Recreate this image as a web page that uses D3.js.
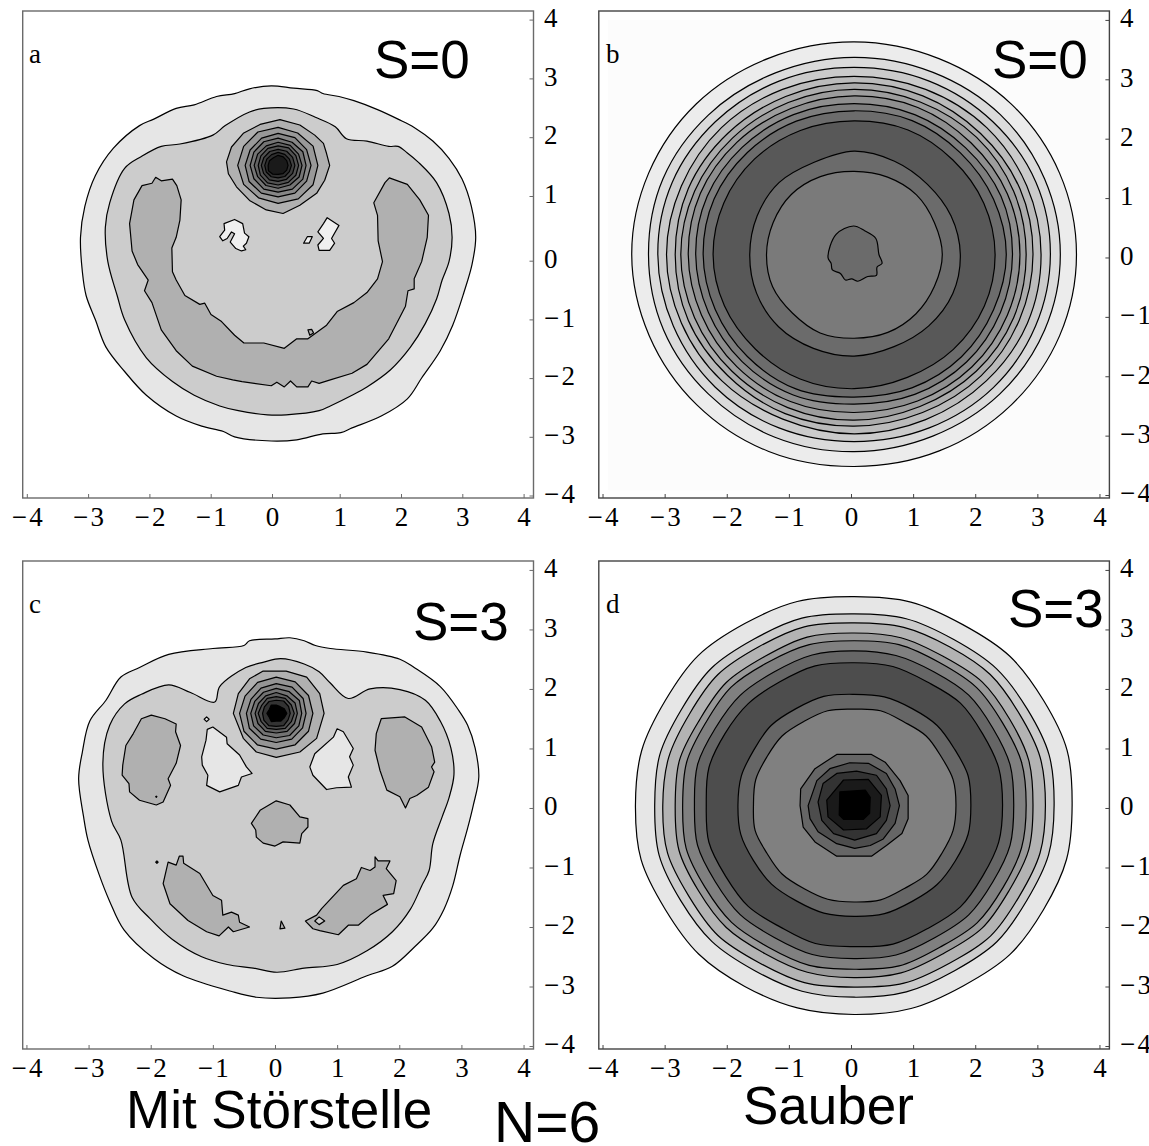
<!DOCTYPE html>
<html>
<head>
<meta charset="utf-8">
<script src="https://cdn.jsdelivr.net/npm/d3@7"></script>
<style>
  html, body { margin: 0; background: #fff; }
  svg { display: block; }
</style>
</head>
<body>
<script>
// tick labels, same on all panels
const tickVals = [-4, -3, -2, -1, 0, 1, 2, 3, 4];

// ---- panel a: contours as [x, y] in axis units
const aOuter = [[-.06,2.89],[.30,2.85],[.68,2.81],[.77,2.76],[1.03,2.71],[1.27,2.64],[1.65,2.49],[1.98,2.33],[2.24,2.19],[2.54,1.96],[2.80,1.67],[3.01,1.32],[3.16,.86],[3.23,.34],[3.17,-.12],[3.04,-.59],[2.86,-1.14],[2.66,-1.57],[2.36,-2.03],[2.13,-2.38],[1.71,-2.67],[1.24,-2.87],[1.06,-2.95],[.77,-2.97],[.35,-3.07],[-.06,-3.09],[-.65,-3.02],[-.83,-2.93],[-1.18,-2.84],[-1.59,-2.67],[-2.07,-2.32],[-2.42,-1.92],[-2.72,-1.51],[-2.89,-1.05],[-3.04,-.64],[-3.10,-.24],[-3.13,.34],[-3.06,.86],[-2.89,1.38],[-2.60,1.84],[-2.18,2.22],[-1.95,2.33],[-1.59,2.51],[-1.30,2.57],[-.94,2.71],[-.65,2.76],[-.41,2.84]];
const aSecond = [[-.18,2.51],[.30,2.50],[.65,2.36],[.97,2.20],[1.15,2.00],[1.48,1.96],[1.83,1.87],[1.98,1.87],[2.13,1.76],[2.30,1.61],[2.60,1.26],[2.80,.74],[2.85,.34],[2.80,-.07],[2.69,-.38],[2.60,-.70],[2.42,-1.11],[2.18,-1.51],[1.86,-1.89],[1.48,-2.18],[1.24,-2.32],[.89,-2.50],[.71,-2.58],[.18,-2.65],[-.12,-2.65],[-.59,-2.58],[-.89,-2.50],[-1.30,-2.32],[-1.65,-2.09],[-2.07,-1.69],[-2.42,-1.05],[-2.54,-.64],[-2.69,-.07],[-2.73,.51],[-2.66,.92],[-2.42,1.50],[-2.15,1.70],[-1.83,1.87],[-1.53,1.91],[-1.00,2.06],[-.80,2.22],[-.41,2.45]];
const aCrescent = [[-2.14,1.21],[-1.98,1.25],[-1.92,1.35],[-1.83,1.29],[-1.65,1.32],[-1.58,1.21],[-1.51,.97],[-1.53,.63],[-1.59,.34],[-1.66,.16],[-1.65,-.24],[-1.59,-.38],[-1.45,-.64],[-1.21,-.79],[-1.13,-.77],[-1.03,-.96],[-.86,-1.08],[-.65,-1.31],[-.50,-1.44],[-.18,-1.44],[.15,-1.53],[.35,-1.37],[.53,-1.37],[.83,-1.14],[1.00,-.91],[1.27,-.76],[1.48,-.59],[1.65,-.36],[1.73,-.07],[1.66,.28],[1.65,.71],[1.59,.92],[1.77,1.26],[1.84,1.34],[2.13,1.23],[2.33,.97],[2.47,.71],[2.45,.34],[2.36,-.07],[2.24,-.36],[2.24,-.53],[2.14,-.56],[2.10,-.82],[1.83,-1.37],[1.48,-1.80],[1.24,-1.95],[.89,-2.06],[.71,-2.12],[.59,-2.08],[.53,-2.18],[.35,-2.18],[.25,-2.08],[.15,-2.18],[.03,-2.10],[-.06,-2.16],[-.53,-2.09],[-.68,-2.06],[-.94,-2.00],[-1.33,-1.83],[-1.59,-1.57],[-1.83,-1.22],[-1.98,-.76],[-2.10,-.56],[-2.04,-.38],[-2.21,-.12],[-2.30,.11],[-2.34,.57],[-2.27,.97]];
const aBlobLeft = [[-.89,.35],[-.81,.46],[-.82,.57],[-.65,.64],[-.52,.57],[-.49,.41],[-.42,.35],[-.46,.24],[-.51,.19],[-.47,.13],[-.54,.11],[-.63,.15],[-.72,.26],[-.65,.40],[-.70,.43],[-.77,.32],[-.84,.28]];
const aBlobRight = [[.84,.67],[1.03,.54],[.91,.32],[.96,.24],[.88,.12],[.71,.12],[.69,.21],[.78,.32],[.69,.43],[.78,.57]];
const aBlobSmall = [[.52,.35],[.60,.35],[.55,.24],[.46,.24]];
const aSpot = [[.53,-1.22],[.59,-1.21],[.62,-1.27],[.56,-1.31]];
const aPeakOuter = [[.08,2.32],[.40,2.23],[.64,2.06],[.78,1.92],[.83,1.75],[.88,1.55],[.80,1.30],[.67,1.08],[.40,.88],[.13,.74],[-.14,.80],[-.41,.96],[-.62,1.19],[-.75,1.41],[-.78,1.61],[-.70,1.86],[-.51,2.09],[-.24,2.24]];
const aPeakCentre = [.05, 1.55];
// radii around the peak, 12 spokes starting east, going counter clockwise
const aPeakRadii = [
  [.64,.65,.63,.64,.65,.64,.65,.64,.63,.64,.65,.65],
  [.53,.53,.54,.54,.53,.52,.53,.54,.54,.53,.54,.53],
  [.45,.46,.45,.46,.46,.45,.45,.45,.46,.45,.46,.46],
  [.385,.38,.39,.39,.38,.38,.385,.38,.39,.385,.38,.39],
  [.33,.33,.34,.33,.33,.32,.32,.33,.34,.33,.33,.33],
  [.27,.27,.275,.27,.27,.265,.27,.27,.28,.27,.27,.27],
  [.215,.21,.215,.22,.21,.21,.215,.22,.22,.21,.215,.21],
  [.16,.16,.165,.17,.15,.16,.16,.18,.17,.15,.16,.16]
];
const aGrays = [.9,.8,.69,.94,.94,.94,.69,.69,.6,.53,.46,.39,.32,.25,.18,.1,0];

// ---- panel b: rings around a common centre, 16 spokes
const bCentre = [.05, .05];
const bRadii = [
  [3.58,3.58,3.58,3.57,3.58,3.58,3.59,3.58,3.58,3.57,3.58,3.59,3.57,3.58,3.58,3.58],
  [3.32,3.32,3.33,3.32,3.32,3.31,3.32,3.33,3.31,3.32,3.32,3.33,3.32,3.31,3.32,3.32],
  [3.16,3.17,3.16,3.16,3.15,3.16,3.16,3.17,3.16,3.15,3.16,3.16,3.15,3.16,3.17,3.16],
  [3.01,3.01,3.02,3.01,3.00,3.01,3.02,3.01,3.02,3.01,3.01,3.00,3.02,3.01,3.01,3.02],
  [2.88,2.89,2.88,2.89,2.89,2.88,2.88,2.89,2.88,2.89,2.88,2.90,2.89,2.88,2.89,2.88],
  [2.77,2.78,2.79,2.78,2.78,2.77,2.77,2.78,2.79,2.78,2.78,2.79,2.79,2.77,2.78,2.78],
  [2.67,2.67,2.66,2.68,2.67,2.66,2.67,2.68,2.67,2.66,2.67,2.68,2.66,2.67,2.68,2.67],
  [2.55,2.56,2.54,2.55,2.54,2.55,2.55,2.56,2.55,2.54,2.55,2.56,2.52,2.55,2.56,2.55],
  [2.45,2.43,2.42,2.44,2.42,2.43,2.43,2.44,2.43,2.42,2.43,2.45,2.40,2.43,2.44,2.43],
  [2.27,2.26,2.25,2.27,2.25,2.26,2.27,2.27,2.27,2.26,2.25,2.27,2.26,2.24,2.26,2.27],
  [1.71,1.69,1.67,1.70,1.74,1.68,1.71,1.69,1.68,1.70,1.72,1.71,1.71,1.68,1.70,1.72],
  [1.42,1.40,1.42,1.41,1.40,1.42,1.43,1.41,1.41,1.42,1.40,1.43,1.41,1.42,1.41,1.40]
];
const bBlob = [[.04,.53],[.22,.45],[.40,.32],[.45,.05],[.50,-.10],[.42,-.16],[.41,-.30],[.27,-.32],[.11,-.40],[.01,-.36],[-.09,-.38],[-.17,-.27],[-.30,-.21],[-.32,-.10],[-.37,0],[-.24,.39]];
const bGrays = [.925,.86,.795,.735,.675,.615,.555,.49,.425,.345,.42,.48,.42];
const bPlotRange = [[-3.91,4.01],[-3.92,4.0]];

// ---- panel c
const cOuter = [[0,2.84],[.24,2.86],[.47,2.81],[.65,2.73],[.89,2.68],[1.48,2.62],[2.01,2.50],[2.24,2.36],[2.66,2.04],[2.95,1.65],[3.10,1.39],[3.22,1.01],[3.28,.52],[3.19,.04],[3.10,-.34],[2.98,-.79],[2.86,-1.31],[2.72,-1.70],[2.54,-2.02],[2.24,-2.34],[1.89,-2.66],[1.48,-2.82],[.77,-3.11],[.24,-3.19],[-.30,-3.18],[-.71,-3.08],[-1.48,-2.82],[-1.95,-2.53],[-2.43,-2.05],[-2.66,-1.57],[-2.83,-1.12],[-3.01,-.54],[-3.08,-.15],[-3.16,.49],[-3.10,.94],[-2.98,1.46],[-2.72,1.81],[-2.48,2.20],[-2.18,2.36],[-1.71,2.58],[-1.00,2.68],[-.50,2.73],[-.41,2.81]];
const cSecond = [[.09,2.51],[.47,2.42],[.71,2.29],[.89,2.10],[1.18,1.84],[1.53,2.00],[2.01,1.99],[2.42,1.81],[2.66,1.46],[2.83,1.01],[2.88,.56],[2.80,.17],[2.69,-.15],[2.54,-.60],[2.48,-1.05],[2.36,-1.31],[2.18,-1.70],[1.89,-2.08],[1.48,-2.40],[1.00,-2.63],[.47,-2.69],[.03,-2.76],[-.35,-2.69],[-.77,-2.63],[-1.18,-2.50],[-1.65,-2.21],[-2.01,-1.86],[-2.30,-1.50],[-2.48,-.54],[-2.63,-.22],[-2.77,.75],[-2.66,1.39],[-2.42,1.75],[-2.15,1.91],[-1.71,2.07],[-1.36,1.94],[-.97,1.78],[-.89,2.04],[-.47,2.36],[-.18,2.45]];
const cEyeLeft = [[-2.15,1.50],[-1.99,1.56],[-1.77,1.50],[-1.59,1.41],[-1.60,1.28],[-1.52,1.05],[-1.59,.75],[-1.72,.49],[-1.68,.38],[-1.80,.10],[-1.91,.05],[-2.18,.13],[-2.34,.27],[-2.35,.41],[-2.46,.55],[-2.45,.72],[-2.40,1.05],[-2.28,1.25]];
const cEyeRight = [[1.71,1.50],[2.09,1.53],[2.36,1.36],[2.52,1.03],[2.57,.77],[2.52,.69],[2.56,.61],[2.47,.35],[2.28,.21],[2.17,.16],[2.10,0],[2.01,.19],[1.80,.30],[1.69,.63],[1.61,.97],[1.63,1.25]];
const cNose = [[.02,.12],[.24,.05],[.40,-.15],[.53,-.18],[.53,-.32],[.43,-.43],[.40,-.59],[.13,-.57],[0,-.64],[-.19,-.59],[-.30,-.49],[-.31,-.37],[-.38,-.26],[-.24,-.04]];
const cMouthLeft = [[-1.72,-.91],[-1.59,-.96],[-1.54,-.81],[-1.48,-.81],[-1.47,-.93],[-1.21,-1.10],[-1.00,-1.47],[-.86,-1.55],[-.84,-1.80],[-.70,-1.75],[-.59,-1.80],[-.57,-1.92],[-.41,-2.00],[-.67,-2.08],[-.75,-2.00],[-.90,-2.15],[-1.10,-2.08],[-1.40,-1.89],[-1.69,-1.61],[-1.80,-1.27]];
const cMouthRight = [[1.61,-.82],[1.66,-.89],[1.85,-.89],[1.79,-1.02],[1.95,-1.22],[1.91,-1.44],[1.74,-1.47],[1.81,-1.62],[1.53,-1.80],[1.34,-1.97],[1.18,-1.97],[1.02,-2.13],[.72,-2.06],[.61,-2.03],[.49,-1.90],[.67,-1.80],[.75,-1.69],[1.10,-1.30],[1.31,-1.19],[1.39,-1.00],[1.53,-1.05],[1.61,-.99]];
const cGapLeft = [[-1.09,1.32],[-1.00,1.36],[-.78,1.19],[-.77,1.08],[-.57,.89],[-.46,.69],[-.37,.58],[-.54,.52],[-.59,.38],[-.89,.27],[-1.10,.38],[-1.08,.55],[-1.17,.72],[-1.18,.86],[-1.11,1.14]];
const cGapRight = [[1.00,1.33],[1.10,1.28],[1.26,1.00],[1.20,.86],[1.26,.72],[1.18,.52],[1.23,.35],[.99,.34],[.83,.31],[.61,.55],[.56,.69],[.64,.91],[.94,1.19]];
const cSpecks = [
  [[-1.14,1.49],[-1.10,1.53],[-1.06,1.49],[-1.10,1.45]],
  [[-1.92,-.91],[-1.90,-.89],[-1.88,-.91],[-1.90,-.93]],
  [[-1.92,.19],[-1.91,.20],[-1.90,.19],[-1.91,.18]],
  [[.08,-2.03],[.10,-1.90],[.16,-2.02]],
  [[.64,-1.90],[.71,-1.83],[.80,-1.90],[.71,-1.96]]
];
const cPeakOuter = [[-.19,2.30],[.18,2.30],[.51,2.20],[.72,1.92],[.79,1.59],[.67,1.17],[.40,.94],[.02,.85],[-.30,.94],[-.51,1.17],[-.67,1.59],[-.59,1.92],[-.41,2.17]];
const cPeakCentre = [.02, 1.59];
const cPeakRadii = [
  [.59,.60,.61,.61,.60,.58,.59,.60,.61,.60,.61,.60],
  [.48,.50,.51,.50,.49,.47,.48,.50,.50,.49,.50,.49],
  [.41,.43,.42,.42,.41,.40,.41,.42,.42,.41,.43,.42],
  [.34,.35,.34,.35,.34,.33,.34,.34,.35,.33,.35,.34],
  [.29,.28,.29,.28,.29,.27,.29,.28,.29,.27,.29,.28],
  [.225,.23,.24,.22,.23,.22,.22,.23,.24,.22,.24,.22],
  [.17,.15,.13,.14,.16,.13,.15,.13,.16,.13,.15,.15]
];
const cGrays = [.9,.8,.69,.69,.69,.69,.69,.9,.9,.9,.1,.3,.69,.8,.69,.58,.52,.45,.38,.3,.2,0];

// ---- panel d: nine outer rings on 24 spokes, inner ones traced
const dCentre = [.05, .05];
const dRadii = [
  [3.51,3.55,3.52,3.54,3.50,3.53,3.50,3.54,3.52,3.55,3.51,3.54,3.52,3.55,3.51,3.54,3.52,3.53,3.52,3.54,3.51,3.55,3.52,3.54],
  [3.22,3.25,3.22,3.24,3.21,3.24,3.21,3.25,3.22,3.25,3.21,3.24,3.21,3.25,3.22,3.24,3.21,3.24,3.23,3.25,3.22,3.25,3.21,3.24],
  [3.08,3.10,3.07,3.10,3.07,3.09,3.06,3.10,3.07,3.10,3.06,3.09,3.08,3.11,3.07,3.10,3.06,3.09,3.06,3.10,3.07,3.11,3.07,3.10],
  [2.88,2.91,2.89,2.92,2.88,2.91,2.89,2.92,2.88,2.91,2.87,2.91,2.88,2.92,2.89,2.91,2.88,2.91,2.90,2.92,2.88,2.92,2.88,2.91],
  [2.77,2.79,2.76,2.79,2.76,2.79,2.76,2.79,2.77,2.80,2.76,2.79,2.76,2.80,2.77,2.79,2.76,2.79,2.76,2.80,2.76,2.80,2.77,2.79],
  [2.57,2.60,2.58,2.61,2.58,2.60,2.59,2.61,2.58,2.60,2.58,2.61,2.57,2.61,2.58,2.60,2.57,2.60,2.58,2.61,2.58,2.61,2.58,2.60],
  [2.39,2.41,2.39,2.42,2.38,2.41,2.39,2.42,2.39,2.41,2.40,2.42,2.38,2.42,2.39,2.41,2.37,2.41,2.38,2.42,2.39,2.42,2.39,2.41],
  [1.88,1.90,1.87,1.89,1.87,1.88,1.86,1.89,1.87,1.89,1.86,1.88,1.87,1.89,1.87,1.88,1.86,1.88,1.87,1.89,1.87,1.89,1.88,1.90],
  [1.64,1.65,1.62,1.64,1.61,1.64,1.61,1.64,1.62,1.64,1.62,1.64,1.62,1.65,1.62,1.64,1.62,1.64,1.63,1.65,1.62,1.65,1.63,1.65]
];
const dCore = [
  [[-.82,.04],[-.81,.32],[-.58,.66],[-.23,.90],[.33,.90],[.55,.77],[.79,.46],[.92,.21],[.92,-.18],[.82,-.43],[.57,-.63],[.33,-.81],[-.23,-.81],[-.58,-.57],[-.77,-.32]],
  [[-.69,.04],[-.55,.46],[-.34,.66],[-.02,.76],[.28,.75],[.57,.58],[.71,.32],[.78,.04],[.71,-.26],[.52,-.52],[.31,-.63],[.06,-.68],[-.23,-.60],[-.53,-.40],[-.66,-.18]],
  [[-.53,.10],[-.45,.41],[-.23,.58],[.09,.62],[.41,.55],[.57,.32],[.63,.04],[.57,-.21],[.41,-.43],[.06,-.54],[-.28,-.43],[-.47,-.21]],
  [[-.39,.13],[-.12,.47],[.28,.48],[.49,.21],[.47,-.15],[.25,-.35],[-.12,-.37],[-.37,-.15]],
  [[-.18,.27],[.23,.30],[.31,.18],[.30,-.09],[.20,-.19],[-.12,-.19],[-.19,-.12]]
];
const dGrays = [.9,.8,.7,.6,.5,.4,.3,.4,.5,.4,.3,.2,.1,0];

// ---- free labels
const panelLetters = ["a", "b", "c", "d"];
const spinLabels = ["S=0", "S=0", "S=3", "S=3"];
const captions = ["Mit Störstelle", "N=6", "Sauber"];

// ---- layout
const xDomain = [-4.06, 4.16];
const yDomain = [-4.05, 4.15];
const layout = [
  {x: [22.7, 533.5], y: [498, 11], frame: "#6a6a6a", letter: [29, 63], spin: [374, 77.5], smooth: 2},
  {x: [598.8, 1109.4], y: [498, 11], frame: "#444", letter: [606, 63], spin: [992, 77.5], smooth: 99},
  {x: [22.7, 533.5], y: [1049, 561], frame: "#6a6a6a", letter: [29, 613], spin: [413, 640], smooth: 2},
  {x: [598.8, 1109.4], y: [1049, 561], frame: "#444", letter: [606, 613], spin: [1008, 626.5], smooth: 9}
];
// panel a's ticks are not evenly spaced in the picture: the 0-1 step is wider
const aTickKnots = [-4, 0, 1, 4];
const aTickX = [26.8, 272, 339.7, 523.6];
const aTickY = [495.5, 260.7, 196, 19.6];

// spokes start east and go counter clockwise
function ring(c, radii) {
  return radii.map((r, k) => {
    let a = 2 * Math.PI * k / radii.length;
    return [c[0] + r * Math.cos(a), c[1] + r * Math.sin(a)];
  });
}

const gray = g => d3.rgb(255 * g, 255 * g, 255 * g).toString();
const fmt = d => d < 0 ? "\u2212\u200a" + (-d) : "" + d;

const panelShapes = [
  [aOuter, aSecond, aCrescent, aBlobLeft, aBlobRight, aBlobSmall, aSpot, aPeakOuter].concat(aPeakRadii.map(r => ring(aPeakCentre, r))),
  bRadii.map(r => ring(bCentre, r)).concat([bBlob]),
  [cOuter, cSecond, cEyeLeft, cEyeRight, cNose, cMouthLeft, cMouthRight, cGapLeft, cGapRight].concat(cSpecks, [cPeakOuter], cPeakRadii.map(r => ring(cPeakCentre, r))),
  dRadii.map(r => ring(dCentre, r)).concat(dCore)
];
const panelGrays = [aGrays, bGrays, cGrays, dGrays];

const svg = d3.select("body").append("svg").attr("width", 1149).attr("height", 1146);

layout.forEach((p, i) => {
  let xScale = d3.scaleLinear().domain(xDomain).range(p.x);
  let yScale = d3.scaleLinear().domain(yDomain).range(p.y);
  let xTickScale = i == 0 ? d3.scaleLinear().domain(aTickKnots).range(aTickX) : xScale;
  let yTickScale = i == 0 ? d3.scaleLinear().domain(aTickKnots).range(aTickY) : yScale;
  let g = svg.append("g");

  if (i == 1) {
    g.append("rect")
      .attr("x", xScale(bPlotRange[0][0]))
      .attr("y", yScale(bPlotRange[1][1]))
      .attr("width", xScale(bPlotRange[0][1]) - xScale(bPlotRange[0][0]))
      .attr("height", yScale(bPlotRange[1][0]) - yScale(bPlotRange[1][1]))
      .attr("fill", "#fcfcfc");
  }

  let line = d3.line().x(d => xScale(d[0])).y(d => yScale(d[1]));
  let smoothLine = d3.line().x(d => xScale(d[0])).y(d => yScale(d[1])).curve(d3.curveCatmullRomClosed);
  line.curve(d3.curveLinearClosed);

  g.selectAll("path.contour")
    .data(panelShapes[i])
    .enter()
    .append("path")
    .attr("class", "contour")
    .attr("d", (d, k) => k < p.smooth ? smoothLine(d) : line(d))
    .attr("fill", (d, k) => gray(panelGrays[i][k]))
    .attr("stroke", "#000")
    .attr("stroke-width", 1.2)
    .attr("stroke-linejoin", "round");

  g.append("rect")
    .attr("x", p.x[0]).attr("y", p.y[1])
    .attr("width", p.x[1] - p.x[0]).attr("height", p.y[0] - p.y[1])
    .attr("fill", "none").attr("stroke", p.frame).attr("stroke-width", 1.4);

  let xAxis = g.append("g")
    .attr("transform", "translate(0," + p.y[0] + ")")
    .call(d3.axisBottom(xTickScale).tickValues(tickVals).tickFormat(fmt).tickSizeInner(-4).tickSizeOuter(0).tickPadding(8.5));
  let yAxis = g.append("g")
    .attr("transform", "translate(" + p.x[1] + ",0)")
    .call(d3.axisRight(yTickScale).tickValues(tickVals).tickFormat(fmt).tickSizeInner(-4).tickSizeOuter(0).tickPadding(10.5));
  [xAxis, yAxis].forEach(a => {
    a.select(".domain").remove();
    a.selectAll("line").attr("stroke", p.frame);
    a.selectAll("text")
      .attr("fill", "#000")
      .style("font-family", "'Liberation Serif', serif")
      .style("font-size", "27px");
  });
  yAxis.selectAll("text").attr("dy", "0.25em");

  g.append("text").text(panelLetters[i])
    .attr("x", p.letter[0]).attr("y", p.letter[1])
    .style("font-family", "'Liberation Serif', serif").style("font-size", "27px");
  g.append("text").text(spinLabels[i])
    .attr("x", p.spin[0]).attr("y", p.spin[1])
    .style("font-family", "'Liberation Sans', sans-serif").style("font-size", "53px");
});

// captions under the bottom row
const captionPos = [[126, 1128, 53], [494, 1142, 57], [743, 1124, 53]];
svg.selectAll("text.caption")
  .data(captions)
  .enter()
  .append("text")
  .attr("class", "caption")
  .text(d => d)
  .attr("x", (d, i) => captionPos[i][0])
  .attr("y", (d, i) => captionPos[i][1])
  .style("font-family", "'Liberation Sans', sans-serif")
  .style("font-size", (d, i) => captionPos[i][2] + "px");
</script>
</body>
</html>
